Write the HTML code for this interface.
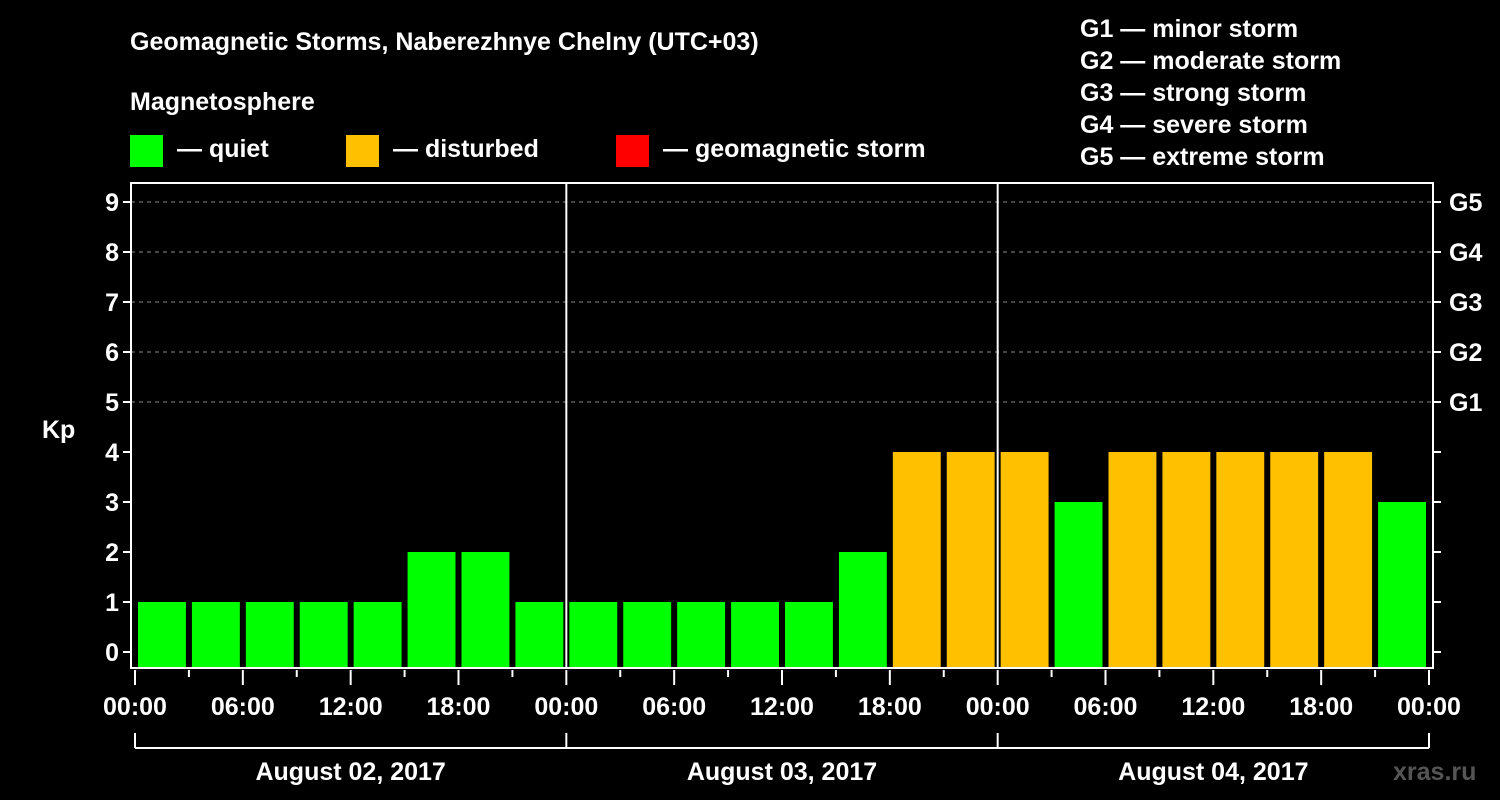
<!DOCTYPE html>
<html><head><meta charset="utf-8"><style>
body{margin:0;background:#000;width:1500px;height:800px;overflow:hidden}
svg{display:block;font-family:"Liberation Sans",Arial,sans-serif;font-weight:bold;fill:#fff}
</style></head><body>
<svg id="c" width="1500" height="800">
<text x="130" y="50" font-size="25">Geomagnetic Storms, Naberezhnye Chelny (UTC+03)</text>
<text x="130" y="110" font-size="25">Magnetosphere</text>
<g><rect x="130" y="135" width="33" height="32" fill="#00ff00"/><text x="177" y="157" font-size="25">— quiet</text></g>
<g><rect x="346" y="135" width="33" height="32" fill="#ffc000"/><text x="393" y="157" font-size="25">— disturbed</text></g>
<g><rect x="616" y="135" width="33" height="32" fill="#ff0000"/><text x="663" y="157" font-size="25">— geomagnetic storm</text></g>
<g font-size="25">
<text x="1080" y="37">G1 — minor storm</text><text x="1080" y="69">G2 — moderate storm</text><text x="1080" y="101">G3 — strong storm</text><text x="1080" y="133">G4 — severe storm</text><text x="1080" y="165">G5 — extreme storm</text></g>
<text x="42" y="438" font-size="25">Kp</text>
<text x="1393" y="780" font-size="25" fill="#555" style="fill:#555">xras.ru</text>
<g id="grid"></g><g id="bars"></g><g id="axes"></g>
</svg>
<script>
const kpValues=[1,1,1,1,1,2,2,1, 1,1,1,1,1,2,4,4, 4,3,4,4,4,4,4,3];
const yTicks=[0,1,2,3,4,5,6,7,8,9];
const gLabels=["G1","G2","G3","G4","G5"];
const hourLabels=["00:00","06:00","12:00","18:00"];
const dayLabels=["August 02, 2017","August 03, 2017","August 04, 2017"];
const NS="http://www.w3.org/2000/svg";
const X0=135,X1=1429,L=131,R=1433,T=183,B=668;
const slot=(X1-X0)/kpValues.length;
const xs=i=>X0+i*slot;
const ys=v=>652-v*50;
function mk(tag,a,p){const e=document.createElementNS(NS,tag);for(const k in a)e.setAttribute(k,a[k]);p.appendChild(e);return e;}
const grid=document.getElementById('grid'),bars=document.getElementById('bars'),axes=document.getElementById('axes');
yTicks.forEach(v=>{
 if(v>=5){const g=mk('line',{x1:L,x2:R,y1:ys(v),y2:ys(v),stroke:'#888','stroke-dasharray':'4 4','stroke-width':1},grid);
 
 }
 const t=mk('line',{x1:L-8,x2:L,y1:ys(v),y2:ys(v),stroke:'#fff','stroke-width':2},axes);
 
 
 const t2=mk('line',{x1:R,x2:R+8,y1:ys(v),y2:ys(v),stroke:'#fff','stroke-width':2},axes);
 
 
 const lb=mk('text',{x:L-12,y:ys(v)+9,'font-size':25,'text-anchor':'end'},axes);lb.textContent=v;
 
 
});
gLabels.forEach((g,i)=>{const lb=mk('text',{x:R+16,y:ys(5+i)+9,'font-size':25},axes);lb.textContent=g;
 
 });
kpValues.forEach((v,i)=>{const r=mk('rect',{x:xs(i)+3,y:ys(v),width:slot-6,height:B-ys(v),fill:v>=5?'#ff0000':v>=4?'#ffc000':'#00ff00'},bars);
 
 });
mk('rect',{x:L,y:T,width:R-L,height:B-T,fill:'none',stroke:'#fff','stroke-width':2},axes);
for(let d=1;d<dayLabels.length;d++){const x=xs(d*8);mk('line',{x1:x,x2:x,y1:T,y2:B,stroke:'#fff','stroke-width':2},axes);}
for(let i=0;i<=kpValues.length;i++){const x=xs(i);const major=i%2==0;
 mk('line',{x1:x,x2:x,y1:B+2,y2:B+(major?17:9),stroke:'#fff','stroke-width':2},axes);
 if(major){const lb=mk('text',{x:x,y:715,'font-size':25,'text-anchor':'middle'},axes);lb.textContent=hourLabels[(i/2)%4];
 
 }}
mk('line',{x1:X0,x2:X1,y1:748,y2:748,stroke:'#fff','stroke-width':2},axes);
for(let d=0;d<=dayLabels.length;d++){const x=xs(d*8);mk('line',{x1:x,x2:x,y1:733,y2:748,stroke:'#fff','stroke-width':2},axes);}
dayLabels.forEach((s,d)=>{const lb=mk('text',{x:(xs(d*8)+xs(d*8+8))/2,y:780,'font-size':25,'text-anchor':'middle'},axes);lb.textContent=s;
 
 });
</script></body></html>
